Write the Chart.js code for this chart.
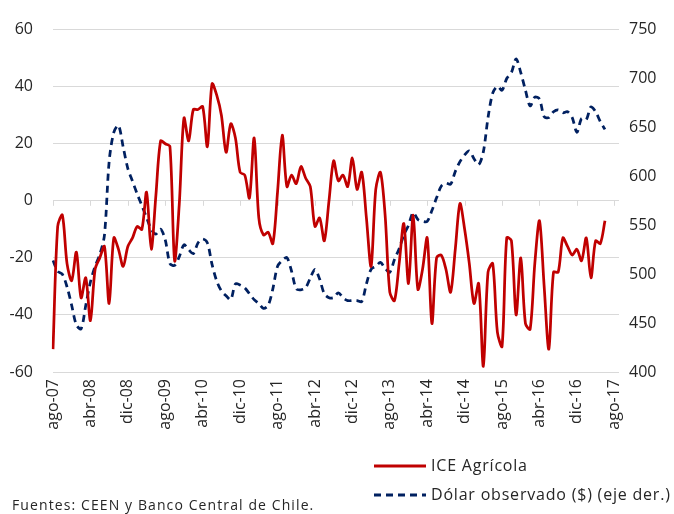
<!DOCTYPE html>
<html>
<head>
<meta charset="utf-8">
<script src="https://cdn.jsdelivr.net/npm/chart.js@4.4.1/dist/chart.umd.min.js"></script>
<style>
  html, body { margin: 0; padding: 0; background: #fff; }
  #wrap { width: 674px; height: 514px; position: relative; }
</style>
</head>
<body>
<div id="wrap"><canvas id="myChart" width="674" height="514"></canvas></div>
<script>
// monthly, ago-07 .. jun-17 ; axis runs to sep-17
var monthNames = ['ene','feb','mar','abr','may','jun','jul','ago','sep','oct','nov','dic'];
var startYear = 2007, startMonth = 7, nMonths = 122;

var iceAgricola = [-52,-9,-5,-22,-28,-18,-34,-27,-42,-24,-20,-16,-36,-13,-17,-23,-16,-13,-9,-10,
  3,-17,2,21,20,19,-21,-1,29,21,32,32,33,19,41,37,30,17,27,22,
  10,9,1,22,-6,-12,-11,-15,3,23,5,9,6,12,8,5,-9,-6,-14,0,
  14,7,9,5,15,4,10,-6,-23,4,10,-5,-32,-35,-22,-8,-29,-5,-31,-24,
  -13,-43,-20,-19,-24,-32,-17,-1,-10,-22,-36,-29,-58,-25,-22,-46,-51,-13,-14,-40,
  -20,-43,-45,-22,-7,-30,-52,-25,-25,-13,-16,-19,-17,-21,-13,-27,-14,-15,-7];

var dolarObs = [514,503,500,487,468,448,444,468,492,508,520,540,615,645,652,630,608,595,582,570,
  558,546,541,546,535,511,509,518,530,525,521,532,536,532,510,493,483,478,474,490,
  489,486,480,474,470,465,468,485,508,514,517,503,485,484,486,496,505,495,480,476,
  476,481,476,473,473,473,472,490,505,508,512,506,502,515,526,540,550,563,556,554,
  554,565,578,590,593,592,605,615,622,626,618,612,625,660,685,692,688,700,706,720,
  706,688,672,681,679,661,660,666,668,665,666,660,645,659,658,671,666,656,648];

var leftTicks = [-60, 60, 20];
var rightTicks = [400, 750, 50];
var tickEvery = 8;

var labels = [];
for (var i = 0; i < nMonths; i++) {
  var mm = (startMonth + i) % 12;
  var yy = startYear + Math.floor((startMonth + i) / 12);
  labels.push(monthNames[mm] + '-' + String(yy).slice(2));
}

var FONT = '"Open Sans", Lato, sans-serif';
var TXT = '#262626';
var GRID = '#d9d9d9';

var extras = {
  id: 'extras',
  beforeDatasetsDraw: function(chart) {
    var ctx = chart.ctx, xs = chart.scales.x, ys = chart.scales.y;
    var y0 = ys.getPixelForValue(0);
    ctx.save();
    ctx.strokeStyle = GRID;
    ctx.lineWidth = 1;
    for (var i = 0; i < nMonths; i += tickEvery) {
      var x = Math.round(xs.getPixelForValue(i)) + 0.5;
      ctx.beginPath();
      ctx.moveTo(x, y0);
      ctx.lineTo(x, y0 + 5);
      ctx.stroke();
    }
    ctx.restore();
  },
  afterDraw: function(chart) {
    var ctx = chart.ctx;
    var ds = chart.data.datasets;
    ctx.save();
    ctx.font = '16px ' + FONT;
    ctx.letterSpacing = '0.8px';
    ctx.fillStyle = TXT;
    ctx.textBaseline = 'middle';
    var rows = [466, 495];
    for (var k = 0; k < ds.length; k++) {
      ctx.beginPath();
      ctx.strokeStyle = ds[k].borderColor;
      ctx.lineWidth = 3;
      ctx.setLineDash(ds[k].borderDash || []);
      ctx.moveTo(374, rows[k]);
      ctx.lineTo(426, rows[k]);
      ctx.stroke();
      ctx.setLineDash([]);
      ctx.fillText(ds[k].label, 431, rows[k]);
    }
    ctx.font = '14px ' + FONT;
    ctx.letterSpacing = '1.1px';
    ctx.fillText('Fuentes: CEEN y Banco Central de Chile.', 12, 506);
    ctx.restore();
  }
};

var ctx = document.getElementById('myChart').getContext('2d');
var chart = new Chart(ctx, {
  type: 'line',
  data: {
    labels: labels,
    datasets: [{
      label: 'ICE Agrícola',
      data: iceAgricola,
      yAxisID: 'y',
      borderColor: '#c00000',
      borderWidth: 2.75,
      pointRadius: 0,
      tension: 0.3,
      fill: false
    }, {
      label: 'Dólar observado ($) (eje der.)',
      data: dolarObs,
      yAxisID: 'y1',
      borderColor: '#002060',
      borderWidth: 2.75,
      borderDash: [7, 5],
      pointRadius: 0,
      tension: 0.3,
      fill: false
    }]
  },
  options: {
    responsive: false,
    animation: false,
    layout: { padding: { top: 18, left: 0, right: 0, bottom: 0 } },
    plugins: { legend: { display: false }, tooltip: { enabled: false } },
    scales: {
      x: {
        type: 'category',
        offset: false,
        grid: { display: false, drawTicks: false },
        border: { display: false },
        afterFit: function(s) { s.height = 142; },
        ticks: {
          autoSkip: false,
          minRotation: 90,
          maxRotation: 90,
          padding: 7,
          color: TXT,
          font: { family: FONT, size: 16 },
          callback: function(v, i) { return i % tickEvery === 0 ? this.getLabelForValue(v) : null; }
        }
      },
      y: {
        position: 'left',
        min: leftTicks[0], max: leftTicks[1],
        afterFit: function(s) { s.width = 53; },
        grid: { color: GRID, lineWidth: 1, drawTicks: false },
        border: { display: false },
        ticks: { stepSize: leftTicks[2], padding: 20, color: TXT, font: { family: FONT, size: 16 } }
      },
      y1: {
        position: 'right',
        min: rightTicks[0], max: rightTicks[1],
        afterFit: function(s) { s.width = 55; },
        grid: { display: false, drawTicks: false },
        border: { display: false },
        ticks: { stepSize: rightTicks[2], padding: 10, color: TXT, font: { family: FONT, size: 16 } }
      }
    }
  },
  plugins: [extras]
});
</script>
</body>
</html>
